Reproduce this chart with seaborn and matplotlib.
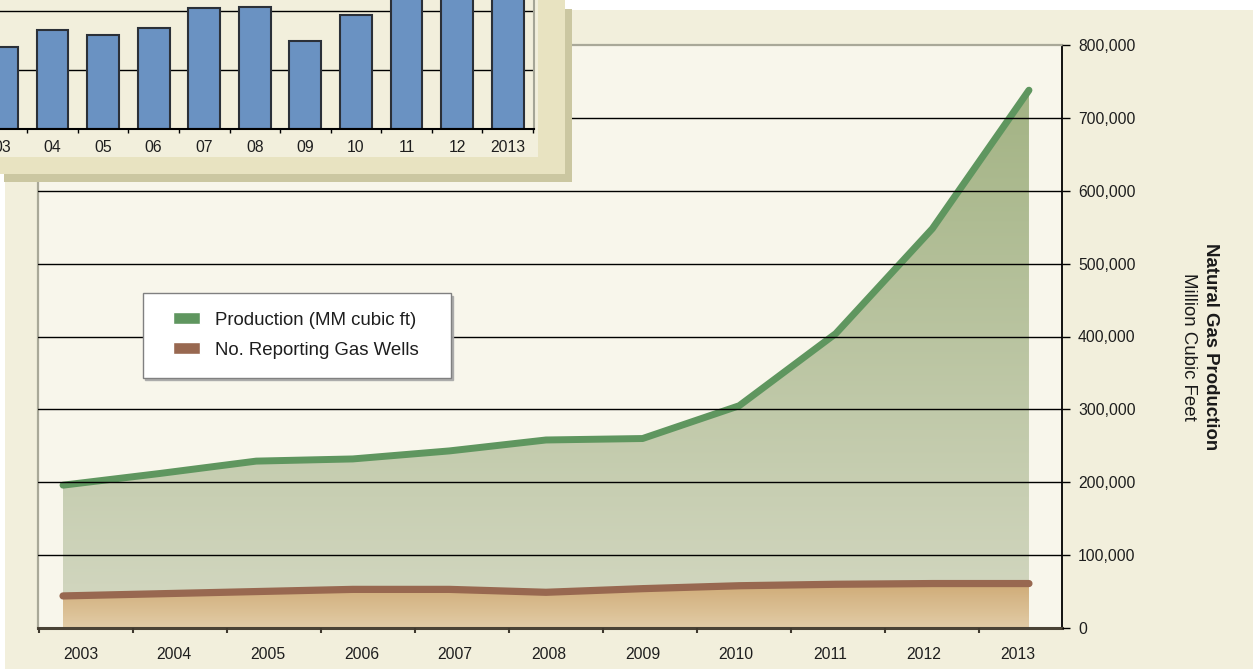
import numpy as np
import pandas as pd
import matplotlib
matplotlib.use("Agg")
import matplotlib.pyplot as plt
import seaborn as sns
from matplotlib.patches import Rectangle, Patch
from matplotlib.colors import LinearSegmentedColormap
from matplotlib.ticker import FuncFormatter
from matplotlib.legend_handler import HandlerPatch

# ---- data -------------------------------------------------------------
years = [2003, 2004, 2005, 2006, 2007, 2008, 2009, 2010, 2011, 2012, 2013]
production_mmcf = [196000, 212000, 229000, 232000, 243000, 258000,
                   260000, 305000, 404000, 548000, 738000]
reporting_wells = [44000, 47000, 50000, 53000, 53000, 49000,
                   54000, 58000, 60000, 61000, 61000]
y_ticks = [0, 100000, 200000, 300000, 400000, 500000, 600000, 700000, 800000]

inset_labels = ["03", "04", "05", "06", "07", "08", "09", "10", "11", "12", "2013"]
inset_values = [27.7, 33.5, 31.8, 34.3, 40.8, 41.1, 29.9, 38.7, 50.0, 53.0, 52.0]
inset_grid = [20, 40]

# ---- helpers ------------------------------------------------------------
W, H = 1253, 669


def fx(px):
    return px / W


def fy(py):
    return 1 - py / H


def gradient_area(ax, x, y, c_low, c_high, z):
    """Fill under a series with a vertical colour ramp."""
    band = ax.fill_between(x, 0, y, facecolor="none", edgecolor="none", zorder=z)
    cmap = LinearSegmentedColormap.from_list("ramp", [c_low, c_high])
    img = ax.imshow(np.linspace(0, 1, 256).reshape(-1, 1), cmap=cmap,
                    origin="lower", aspect="auto", interpolation="bilinear",
                    extent=[np.min(x), np.max(x), 0, np.max(y)], zorder=z)
    img.set_clip_path(band.get_paths()[0], transform=ax.transData)


sns.set_theme(style="white")
plt.rcParams["font.family"] = ["Liberation Sans", "DejaVu Sans"]

fig = plt.figure(figsize=(W / 100, H / 100), dpi=100)
fig.patch.set_facecolor("white")
fig.add_artist(Rectangle((fx(5), 0), 1, fy(10), transform=fig.transFigure,
                         facecolor="#F2EFDC", edgecolor="none", zorder=-5))

# ---- main chart ---------------------------------------------------------
ax = fig.add_axes([fx(38), fy(628), fx(1062) - fx(38), fy(45) - fy(628)], zorder=1)
ax.set_facecolor("#F8F6EB")

df = pd.DataFrame({"pos": np.arange(len(years)), "year": years,
                   "production": production_mmcf, "wells": reporting_wells})

gradient_area(ax, df["pos"].values, df["production"].values, "#D4D8C2", "#A3B384", 1.0)
gradient_area(ax, df["pos"].values, df["wells"].values, "#E2CCA6", "#CFAB77", 1.1)

green, brown = "#5F965F", "#986850"
sns.lineplot(data=df, x="pos", y="production", ax=ax, color=green, linewidth=5, zorder=2)
sns.lineplot(data=df, x="pos", y="wells", ax=ax, color=brown, linewidth=5.2, zorder=2.1)

ax.set_xlim(-0.259, 10.342)
ax.set_ylim(0, 800000)
ax.set_xlabel("")
ax.set_ylabel("")

# right-hand value axis
ax.yaxis.tick_right()
ax.set_yticks(y_ticks)
ax.yaxis.set_major_formatter(FuncFormatter(lambda v, p: f"{int(v):,}"))
ax.tick_params(axis="y", which="major", right=True, left=False, length=5.8, width=1,
               color="black", pad=5.8, labelsize=11.3, labelcolor="#1E1E1E", direction="out")
ax.grid(axis="y", color="black", linewidth=1)
ax.set_axisbelow(False)
grid_lines = ax.get_ygridlines()
grid_lines[0].set_visible(False)
grid_lines[-1].set_visible(False)

# year labels sit between the category tick marks
n = len(years)
label_pos = 0.18 + 0.97 * np.arange(n)
tick_pos = -0.248 + 0.973 * np.arange(n)
ax.set_xticks(label_pos, labels=[str(y) for y in years])
ax.set_xticks(tick_pos, minor=True)
ax.tick_params(axis="x", which="major", length=0, pad=13.5, labelsize=11.3,
               labelcolor="#1E1E1E", bottom=True)
ax.tick_params(axis="x", which="minor", length=3.6, width=1.5, color="#3F392E",
               bottom=True, direction="out")

for s in ["left", "top"]:
    ax.spines[s].set_color("#A9A898")
    ax.spines[s].set_linewidth(1.6)
ax.spines["right"].set_color("black")
ax.spines["right"].set_linewidth(1.3)
ax.spines["bottom"].set_color("#4A4336")
ax.spines["bottom"].set_linewidth(2.2)

handles = [Patch(facecolor=green, label="Production (MM cubic ft)"),
           Patch(facecolor=brown, label="No. Reporting Gas Wells")]
leg = ax.legend(handles=handles, loc="upper left",
                bbox_to_anchor=(fx(142.7), fy(377.3), fx(450.7) - fx(142.7), fy(293.3) - fy(377.3)),
                bbox_transform=fig.transFigure, mode="expand", borderaxespad=0,
                fontsize=13.4, frameon=True, fancybox=False, framealpha=1,
                edgecolor="#808080", facecolor="white", borderpad=1.0,
                handlelength=2.07, handleheight=0.6, handletextpad=0.79,
                labelspacing=0.7, handler_map={Patch: HandlerPatch(xpad=0.62)},
                shadow={"color": "#A8A8A8", "alpha": 0.9})
leg.get_frame().set_linewidth(1)
for t in leg.get_texts():
    t.set_color("#1E1E1E")

fig.text(fx(1210), fy(347), "Natural Gas Production", rotation=270, ha="center",
         va="center", fontsize=13.4, fontweight="bold", color="#1A1A1A")
fig.text(fx(1189), fy(347), "Million Cubic Feet", rotation=270, ha="center",
         va="center", fontsize=13.4, color="#1A1A1A")

# ---- inset bar chart panel --------------------------------------------
fig.add_artist(Rectangle((fx(4), fy(182)), fx(572) - fx(4), fy(9) - fy(182),
                         transform=fig.transFigure, facecolor="#CBC7A1",
                         edgecolor="none", zorder=2))
fig.add_artist(Rectangle((fx(-10), fy(174)), fx(565) - fx(-10), 1.2,
                         transform=fig.transFigure, facecolor="#E8E3C1",
                         edgecolor="none", zorder=2.1))
fig.add_artist(Rectangle((fx(-10), fy(157)), fx(538) - fx(-10), 1.2,
                         transform=fig.transFigure, facecolor="#F2EFDC",
                         edgecolor="none", zorder=2.2))

ax2 = fig.add_axes([fx(-23.4), fy(129.3), fx(534) - fx(-23.4), fy(-18.9) - fy(129.3)], zorder=3)
ax2.set_facecolor("none")
inset_df = pd.DataFrame({"label": inset_labels, "value": inset_values})
sns.barplot(data=inset_df, x="label", y="value", ax=ax2, color="#6A92C2",
            saturation=1, width=0.63, edgecolor="#2B3038", linewidth=1.5)
ax2.set_xlim(-0.5, 10.52)
ax2.set_ylim(0, 50)
ax2.set_xlabel("")
ax2.set_ylabel("")
ax2.set_yticks(inset_grid)
ax2.tick_params(axis="y", left=False, labelleft=False)
ax2.grid(axis="y", color="black", linewidth=1)
ax2.set_axisbelow(True)
ax2.set_xticks(np.arange(len(inset_labels)) + 0.5, minor=True)
ax2.tick_params(axis="x", which="major", length=0, pad=8, labelsize=11.3,
                labelcolor="#1E1E1E")
ax2.tick_params(axis="x", which="minor", length=3, width=1, color="black", bottom=True)
ax2.spines["left"].set_visible(False)
ax2.spines["top"].set_visible(False)
ax2.spines["bottom"].set_color("black")
ax2.spines["bottom"].set_linewidth(1.5)
ax2.spines["right"].set_color("#A5A596")
ax2.spines["right"].set_linewidth(1.5)

fig.savefig("out.png", dpi=100, facecolor=fig.get_facecolor())
